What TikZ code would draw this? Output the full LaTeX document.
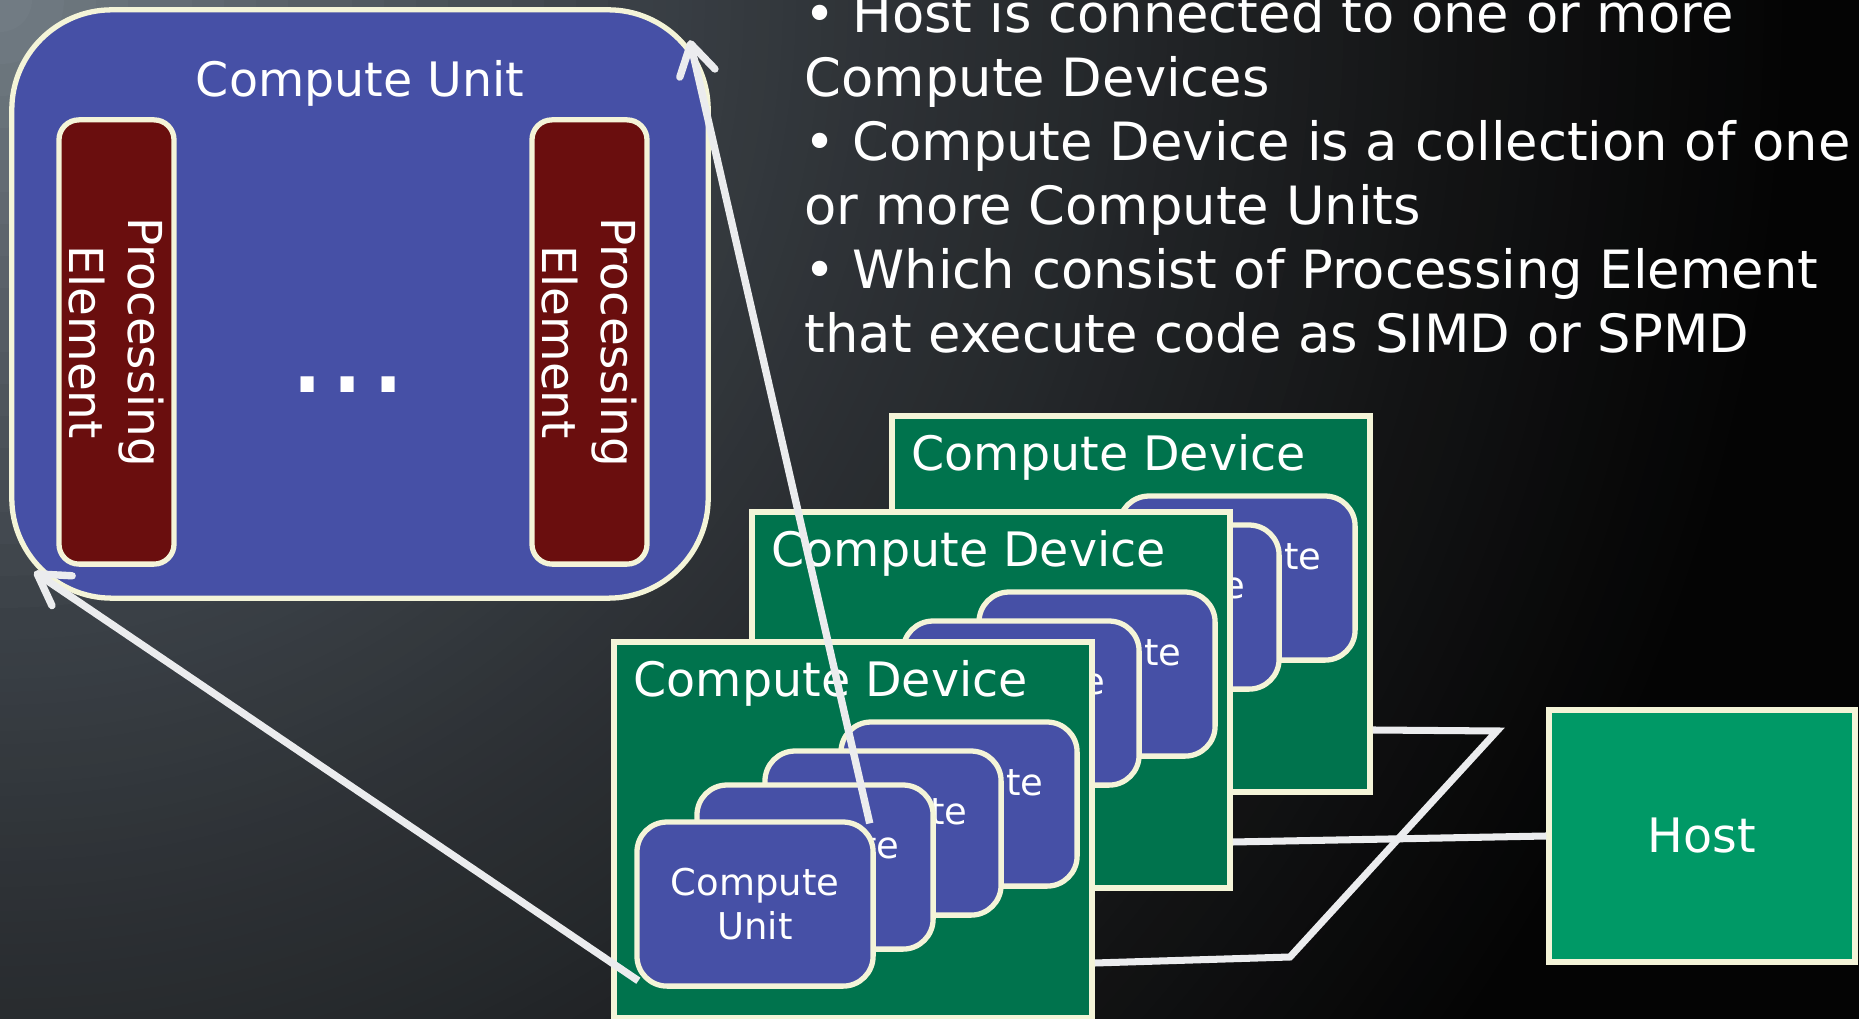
\documentclass[tikz,border=0pt]{standalone}
\usepackage{fontspec}
\setmainfont{DejaVu Sans}
\usetikzlibrary{arrows.meta}
\definecolor{cublue}{RGB}{70,80,166}
\definecolor{pered}{RGB}{106,14,14}
\definecolor{devgreen}{RGB}{0,115,77}
\definecolor{hostgreen}{RGB}{0,153,102}
\definecolor{cream}{RGB}{244,244,216}
\definecolor{linegray}{RGB}{235,236,238}
\definecolor{bgA}{RGB}{116,126,134}
\definecolor{bgB}{RGB}{58,64,70}
\definecolor{bgC}{RGB}{45,49,53}
\definecolor{bgD}{RGB}{36,39,42}
\definecolor{bgE}{RGB}{20,21,22}
\definecolor{bgF}{RGB}{4,4,4}
\begin{document}
\begin{tikzpicture}[x=0.01cm, y=-0.01cm,
  bigcu/.style={draw=cream, line width=1.5pt, fill=cublue, rounded corners=1cm, minimum width=6.96cm, minimum height=5.88cm, inner sep=0},
  pe/.style={draw=cream, line width=1.5pt, fill=pered, rounded corners=0.2cm, minimum width=4.44cm, minimum height=1.15cm, inner sep=0, text=white, align=center, font=\fontsize{13.3pt}{16.8pt}\selectfont},
  device/.style={draw=cream, line width=1.6pt, fill=devgreen, minimum width=4.78cm, minimum height=3.76cm, inner sep=0},
  cu/.style={draw=cream, line width=1.5pt, fill=cublue, rounded corners=0.3cm, minimum width=2.36cm, minimum height=1.64cm, inner sep=0, text=white, align=center, font=\fontsize{10.5pt}{12.5pt}\selectfont},
  lbl/.style={text=white, inner sep=0, font=\fontsize{13.5pt}{16pt}\selectfont},
  bul/.style={text=white, inner sep=0, anchor=base west, font=\fontsize{15pt}{18pt}\selectfont},
  conn/.style={draw=linegray, line width=2pt},
  arr/.style={draw=linegray, line width=2.1pt, -{Straight Barb[length=0.3cm, width=0.36cm, round]}}
]
\useasboundingbox (0,0) rectangle (1859,1019);
\clip (0,0) rectangle (1859,1019);
\fill[bgF] (0,0) rectangle (1859,1019);
% radial background gradient from the top-left corner, built from concentric discs
\foreach \ra/\rb/\ca/\cb in {1440/1800/bgE/bgF, 1120/1440/bgD/bgE, 900/1120/bgC/bgD, 640/900/bgB/bgC, 0/640/bgA/bgB} {
  \foreach \k in {20,19,...,1} {
    \pgfmathsetmacro\rr{(\ra+(\rb-\ra)*\k/20)*0.01}
    \pgfmathsetmacro\pp{100*(20-\k)/20}
    \fill[\ca!\pp!\cb] (0,0) circle[radius=\rr cm];
  }
}

% big compute unit
\node[bigcu] (bigcu) at (360,304) {};
\node[lbl, anchor=base] (bigcut) at (360,97) {Compute Unit};
\node[pe, rotate=-90] (pe1) at (116.5,342) {Processing\\Element};
\node[pe, rotate=-90] (pe2) at (589.5,342) {Processing\\Element};
\node[text=white, inner sep=0, anchor=base, font=\fontsize{36pt}{36pt}\selectfont] (dots) at (348,393) {...};

% compute devices, back to front
\foreach \dev/\x/\y in {A/1131/604, B/991/700, C/853/830} {
  \node[device] (cd\dev) at (\x,\y) {};
  \node[lbl, anchor=base west] (lbl\dev) at ([shift={(22,57)}]cd\dev.north west) {Compute Device};
  \node[cu] (cu\dev4) at ([shift={(348,165)}]cd\dev.north west) {Compute\\Unit};
  \node[cu] (cu\dev3) at ([shift={(272,194)}]cd\dev.north west) {Compute\\Unit};
  \node[cu] (cu\dev2) at ([shift={(204,228)}]cd\dev.north west) {Compute\\Unit};
  \node[cu] (cu\dev1) at ([shift={(144,265)}]cd\dev.north west) {Compute\\Unit};
}

% host
\node[draw=cream, line width=1.5pt, fill=hostgreen, minimum width=3.06cm, minimum height=2.52cm, inner sep=0, text=white, font=\fontsize{13.5pt}{16pt}\selectfont] (host) at (1702,836) {Host};

% connectors
\coordinate (zA) at (1497,731);
\coordinate (zB) at (1290,957);
\draw[conn] ([shift={(0,126)}]cdA.east) -- (zA) -- (zB) -- ([shift={(0,133)}]cdC.east);
\draw[conn] ([shift={(0,142)}]cdB.east) -- (host.west);

% zoom arrows
\draw[arr] ([shift={(4,-8)}]cuC1.south west) -- ([shift={(25,-29)}]bigcu.south west);
\draw[arr] ([shift={(-6,4)}]cuC1.north east) -- ([shift={(-21,33)}]bigcu.north east);

% bullet text
\node[bul] (b1) at (804,33) {• Host is connected to one or more};
\node[bul] (b2) at (804,97) {Compute Devices};
\node[bul] (b3) at (804,161) {• Compute Device is a collection of one};
\node[bul] (b4) at (804,225) {or more Compute Units};
\node[bul] (b5) at (804,289) {• Which consist of Processing Element};
\node[bul] (b6) at (804,353) {that execute code as SIMD or SPMD};
\end{tikzpicture}
\end{document}
